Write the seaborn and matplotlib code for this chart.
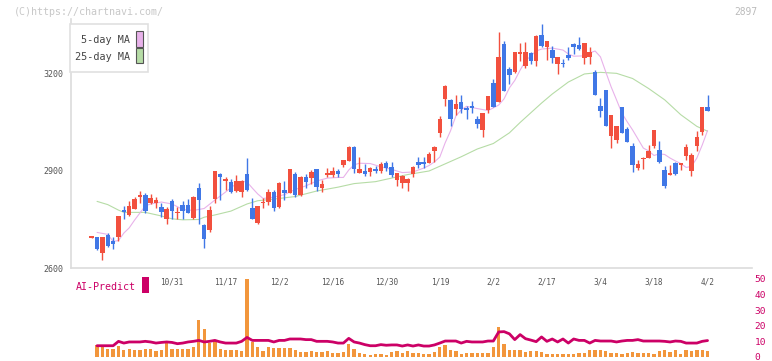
import numpy as np
import matplotlib
matplotlib.use("Agg")
import matplotlib.pyplot as plt
import seaborn as sns
from matplotlib.patches import Rectangle
from matplotlib.transforms import blended_transform_factory

# ---------------- data ----------------
opens = [2694, 2695, 2647, 2702, 2683, 2697, 2779, 2764, 2782, 2821,
         2826, 2800, 2802, 2790, 2751, 2807, 2769, 2795, 2795, 2756,
         2847, 2733, 2718, 2813, 2891, 2870, 2867, 2838, 2836, 2891,
         2787, 2740, 2800, 2805, 2836, 2790, 2841, 2833, 2891, 2826,
         2882, 2878, 2906, 2848, 2889, 2888, 2901, 2918, 2932, 2975,
         2895, 2900, 2898, 2906, 2901, 2924, 2913, 2872, 2864, 2864,
         2891, 2927, 2927, 2926, 2963, 3018, 3123, 3120, 3092, 3114,
         3094, 3101, 3061, 3027, 3089, 3171, 3114, 3293, 3215, 3207,
         3262, 3226, 3266, 3241, 3321, 3284, 3274, 3231, 3235, 3259,
         3293, 3290, 3249, 3252, 3205, 3101, 3150, 3008, 2996, 3097,
         3030, 2977, 2910, 2936, 2941, 2978, 2965, 2903, 2888, 2924,
         2919, 2947, 2901, 2977, 3022, 3097]
highs = [2697, 2695, 2696, 2709, 2695, 2762, 2792, 2807, 2821, 2838,
         2833, 2830, 2821, 2802, 2790, 2813, 2790, 2807, 2813, 2823,
         2864, 2735, 2792, 2901, 2895, 2882, 2875, 2888, 2872, 2941,
         2816, 2793, 2816, 2844, 2841, 2865, 2869, 2907, 2896, 2883,
         2891, 2903, 2907, 2872, 2910, 2913, 2905, 2935, 2977, 2976,
         2944, 2922, 2911, 2916, 2927, 2931, 2927, 2894, 2887, 2879,
         2914, 2944, 2944, 2958, 2976, 3070, 3166, 3123, 3135, 3135,
         3102, 3117, 3071, 3080, 3133, 3185, 3331, 3302, 3221, 3268,
         3297, 3298, 3269, 3319, 3355, 3303, 3287, 3252, 3246, 3283,
         3295, 3315, 3296, 3283, 3212, 3125, 3151, 3074, 3040, 3098,
         3037, 2988, 2934, 2944, 2980, 3028, 2993, 2916, 2919, 2929,
         2925, 2984, 2955, 3024, 3098, 3135]
lows = [2693, 2656, 2625, 2666, 2659, 2684, 2752, 2761, 2781, 2802,
        2771, 2797, 2785, 2759, 2737, 2752, 2751, 2752, 2769, 2752,
        2735, 2663, 2712, 2802, 2810, 2841, 2833, 2836, 2821, 2838,
        2751, 2735, 2787, 2796, 2777, 2787, 2810, 2832, 2821, 2824,
        2846, 2860, 2838, 2834, 2882, 2882, 2881, 2913, 2930, 2895,
        2893, 2886, 2886, 2895, 2893, 2900, 2882, 2855, 2848, 2838,
        2882, 2910, 2910, 2924, 2929, 3006, 3101, 3040, 3073, 3079,
        3061, 3079, 3032, 3006, 3079, 3098, 3113, 3147, 3169, 3204,
        3241, 3220, 3230, 3226, 3284, 3243, 3233, 3199, 3221, 3243,
        3262, 3275, 3230, 3231, 3134, 3066, 3038, 2972, 2988, 3018,
        2990, 2898, 2903, 2905, 2940, 2972, 2924, 2847, 2887, 2888,
        2903, 2934, 2886, 2963, 3011, 3084]
closes = [2696, 2659, 2695, 2668, 2675, 2761, 2774, 2792, 2813, 2826,
          2776, 2816, 2810, 2774, 2782, 2777, 2774, 2777, 2771, 2819,
          2810, 2690, 2779, 2900, 2882, 2872, 2836, 2869, 2869, 2841,
          2752, 2792, 2805, 2836, 2787, 2864, 2831, 2906, 2826, 2882,
          2867, 2896, 2852, 2860, 2891, 2900, 2891, 2934, 2975, 2906,
          2906, 2891, 2910, 2901, 2922, 2910, 2888, 2893, 2886, 2875,
          2913, 2919, 2921, 2953, 2975, 3061, 3164, 3061, 3107, 3092,
          3089, 3096, 3045, 3079, 3132, 3099, 3254, 3148, 3197, 3267,
          3267, 3267, 3241, 3318, 3287, 3302, 3249, 3251, 3230, 3249,
          3283, 3276, 3295, 3267, 3135, 3087, 3039, 3073, 3039, 3019,
          2991, 2918, 2922, 2939, 2962, 3027, 2929, 2855, 2893, 2891,
          2924, 2975, 2949, 3006, 3097, 3086]

ma5_idx = [1, 3, 4, 5, 6, 7, 8, 9, 10, 11, 13, 15, 17, 19, 21, 23, 25, 27, 28, 29,
           30, 31, 32, 34, 36, 38, 40, 42, 44, 46, 47, 48, 49, 50, 52, 54, 56, 58, 60, 62,
           63, 64, 65, 66, 67, 68, 69, 70, 72, 74, 75, 76, 77, 78, 79, 80, 81, 82, 83, 84,
           86, 88, 89, 90, 92, 93, 94, 95, 96, 97, 98, 99, 100, 101, 102, 103, 104, 105, 106, 107,
           108, 109, 110, 111, 112, 113, 114, 115]
ma5_val = [2710, 2704, 2682, 2685, 2708, 2724, 2748, 2770, 2792, 2798,
           2804, 2798, 2781, 2778, 2784, 2810, 2835, 2861, 2868, 2866,
           2847, 2829, 2815, 2819, 2827, 2843, 2854, 2869, 2878, 2880,
           2880, 2903, 2919, 2924, 2923, 2913, 2905, 2895, 2897, 2909,
           2917, 2928, 2943, 2987, 3024, 3070, 3089, 3100, 3093, 3087,
           3095, 3104, 3123, 3157, 3180, 3212, 3240, 3256, 3271, 3277,
           3280, 3274, 3262, 3255, 3256, 3265, 3271, 3253, 3206, 3160,
           3120, 3079, 3052, 3027, 2999, 2971, 2962, 2948, 2953, 2951,
           2940, 2931, 2923, 2911, 2914, 2940, 2980, 3025]

ma25_idx = [1, 3, 5, 6, 10, 13, 15, 17, 20, 21, 23, 26, 29, 31, 34, 38, 42, 46, 49, 53,
            56, 59, 63, 66, 69, 72, 75, 78, 80, 84, 86, 89, 92, 95, 98, 101, 104, 107, 110, 113,
            115]
ma25_val = [2806, 2796, 2779, 2772, 2772, 2761, 2752, 2749, 2750, 2757,
            2764, 2776, 2798, 2808, 2813, 2821, 2838, 2850, 2861, 2867,
            2878, 2889, 2900, 2922, 2944, 2968, 2985, 3018, 3050, 3110,
            3138, 3175, 3200, 3205, 3202, 3186, 3155, 3120, 3074, 3038,
            3023]

vol_idx = list(range(1, 116))
vol_val = [7.7, 6.3, 5.3, 5.3, 7.2, 4.7, 5.3, 4.7, 4.7, 5.3,
           5.3, 3.6, 4.7, 10.4, 5.3, 5.3, 5.3, 5.3, 6.6, 23.8,
           18.1, 8.9, 10.4, 5.3, 4.7, 4.7, 4.7, 4.0, 50.0, 9.3,
           6.6, 4.0, 6.6, 5.9, 5.9, 5.9, 5.9, 4.7, 3.4, 3.4,
           4.0, 3.4, 3.4, 4.0, 2.7, 2.7, 3.4, 8.5, 5.3, 2.7,
           2.1, 1.5, 2.1, 2.1, 1.5, 3.4, 4.0, 2.7, 4.0, 2.7,
           2.7, 2.1, 2.1, 2.9, 6.6, 7.9, 4.5, 4.0, 2.1, 2.7,
           2.7, 2.7, 2.7, 2.7, 6.6, 19.4, 8.5, 4.7, 4.7, 4.7,
           3.4, 4.0, 4.0, 3.4, 2.1, 2.1, 2.1, 2.1, 2.1, 2.1,
           2.7, 2.7, 4.7, 4.7, 4.2, 4.0, 2.7, 2.7, 2.1, 2.7,
           3.4, 2.7, 2.7, 2.7, 2.1, 4.0, 4.7, 3.4, 4.7, 2.1,
           4.7, 4.0, 4.7, 4.7, 3.6]

ai_idx = list(range(1, 116))
ai_val = [7.2, 7.2, 7.2, 7.2, 10.0, 8.9, 9.6, 9.6, 9.6, 10.0,
          9.6, 8.9, 9.3, 9.6, 9.3, 8.5, 8.9, 9.6, 10.0, 10.6,
          9.6, 10.0, 10.6, 9.6, 8.9, 8.9, 8.9, 10.0, 12.5, 10.6,
          10.6, 10.6, 10.6, 9.6, 10.6, 10.6, 11.5, 11.5, 11.5, 11.1,
          11.1, 10.0, 10.0, 10.0, 9.6, 8.9, 8.9, 11.9, 9.6, 8.9,
          7.9, 7.2, 7.2, 7.9, 7.5, 7.7, 7.7, 7.0, 7.7, 7.0,
          7.7, 7.0, 7.0, 7.7, 8.9, 10.2, 10.2, 10.2, 8.9, 10.0,
          9.6, 9.6, 9.6, 10.2, 10.2, 16.0, 16.2, 14.8, 11.1, 14.3,
          11.7, 10.8, 9.8, 12.8, 10.0, 11.5, 9.6, 11.5, 8.9, 11.5,
          10.6, 10.6, 8.9, 10.6, 10.2, 10.2, 10.2, 9.6, 10.2, 10.6,
          10.6, 11.1, 10.2, 10.2, 10.2, 10.2, 10.0, 9.6, 10.2, 10.0,
          8.9, 8.9, 8.9, 10.0, 10.5]

date_idx = [15, 25, 35, 45, 55, 65, 75, 85, 95, 105, 115]
date_labels = ["10/31", "11/17", "12/2", "12/16", "12/30", "1/19",
               "2/2", "2/17", "3/4", "3/18", "4/2"]
price_ticks = [2600, 2900, 3200]
ai_ticks = [0, 10, 20, 30, 40, 50]

# ---------------- style ----------------
sns.set_theme(style="white")
plt.rcParams['font.family'] = ['DejaVu Sans Mono', 'DejaVu Sans']

RED = "#f2503e"
BLUE = "#4077e6"
PINK = "#e8b2ea"
GREEN = "#b6dca6"
ORANGE = "#f2963c"
CRIMSON = "#cc0066"
GRID = "#dcdcdc"
TXT = "#555555"

W, H = 772, 361
fig = plt.figure(figsize=(W / 100, H / 100), dpi=100)
fig.patch.set_facecolor("white")


def fx(px):
    return px / W


def fy(py):
    return 1 - py / H


XMIN, XMAX = -3.96, 123.3
V0 = 357.0          # pixel row of the value 0 in the lower panel
VPX = 1.566         # pixels per unit in the lower panel

ax = fig.add_axes([fx(70.5), fy(268), fx(752) - fx(70.5), fy(19) - fy(268)])
axv = fig.add_axes([fx(70.5), fy(V0), fx(752) - fx(70.5), 55 * VPX / H])
axv.patch.set_alpha(0)

# ---------------- candles ----------------
idx = np.arange(len(opens))
o = np.array(opens, float)
c = np.array(closes, float)
hi = np.array(highs, float)
lo = np.array(lows, float)
cols = np.where(c >= o, RED, BLUE)
ax.vlines(idx, lo, hi, colors=cols, lw=1.0, zorder=3)
body = np.maximum(np.abs(c - o), 4.0)
ax.bar(idx, body, bottom=np.minimum(o, c), width=0.84, color=cols,
       linewidth=0, zorder=4)

sns.lineplot(x=ma25_idx, y=ma25_val, ax=ax, color=GREEN, lw=0.8, zorder=2)
sns.lineplot(x=ma5_idx, y=ma5_val, ax=ax, color=PINK, lw=0.8, zorder=2)

ax.set_xlim(XMIN, XMAX)
ax.set_ylim(2600, 3370)
ax.set_yticks(price_ticks)
ax.set_yticklabels([str(t) for t in price_ticks], fontsize=6, color=TXT)
ax.set_xticks(np.linspace(XMIN, XMAX, 12))
ax.set_xticklabels([])
ax.tick_params(axis='y', direction='inout', length=6.5, width=1.0,
               color=GRID, pad=2)
ax.tick_params(axis='x', direction='inout', length=6, width=1.0, color=GRID)
for s in ["top", "right"]:
    ax.spines[s].set_visible(False)
for s in ["left", "bottom"]:
    ax.spines[s].set_color(GRID)
    ax.spines[s].set_linewidth(1.2)
ax.set_xlabel("")
ax.set_ylabel("")

# ---------------- lower panel ----------------
axv.bar(vol_idx, vol_val, width=0.62, color=ORANGE, linewidth=0, zorder=2)
sns.lineplot(x=ai_idx, y=ai_val, ax=axv, color=CRIMSON, lw=2.0, zorder=3)
axv.set_xlim(XMIN, XMAX)
axv.set_ylim(0, 55)
axv.yaxis.tick_right()
axv.set_yticks(ai_ticks)
axv.set_yticklabels([str(t) for t in ai_ticks], fontsize=6.8, color=CRIMSON)
axv.tick_params(axis='y', length=0, pad=2)
axv.set_xticks([])
for s in axv.spines.values():
    s.set_visible(False)
axv.set_xlabel("")
axv.set_ylabel("")

tr = blended_transform_factory(axv.transData, axv.transAxes)
for i, lab in zip(date_idx, date_labels):
    axv.text(i, (V0 - 282.3) / (55 * VPX), lab, transform=tr, ha='center',
             va='center', fontsize=5.6, color=TXT)

# ---------------- annotations ----------------
fig.text(fx(14), fy(12), "(C)https://chartnavi.com/", fontsize=7.2,
         color="#c8c8c8", ha='left', va='center')
fig.text(fx(757), fy(12), "2897", fontsize=6.9, color="#bbbbbb",
         ha='right', va='center')

# legend box
fig.add_artist(Rectangle((fx(70), fy(72)), fx(148) - fx(70), fy(24) - fy(72),
                         transform=fig.transFigure, facecolor="white",
                         edgecolor="#e0e0e0", lw=1.2, zorder=10))
fig.text(fx(130), fy(40), "5-day MA", fontsize=7.3, color="#444444",
         ha='right', va='center', zorder=11)
fig.text(fx(130), fy(56.5), "25-day MA", fontsize=7.3, color="#444444",
         ha='right', va='center', zorder=11)
fig.add_artist(Rectangle((fx(136), fy(46.7)), fx(142.7) - fx(136), fy(31) - fy(46.7),
                         transform=fig.transFigure, facecolor=PINK,
                         edgecolor="#555555", lw=0.8, zorder=11))
fig.add_artist(Rectangle((fx(136), fy(63.3)), fx(142.7) - fx(136), fy(48.3) - fy(63.3),
                         transform=fig.transFigure, facecolor=GREEN,
                         edgecolor="#555555", lw=0.8, zorder=11))

fig.text(fx(76), fy(286.5), "AI-Predict", fontsize=7.2, color=CRIMSON,
         ha='left', va='center')
fig.add_artist(Rectangle((fx(142.3), fy(292.7)), fx(149) - fx(142.3), fy(277.3) - fy(292.7),
                         transform=fig.transFigure, facecolor=CRIMSON,
                         edgecolor='none', zorder=5))

fig.savefig("out.png", dpi=100)
